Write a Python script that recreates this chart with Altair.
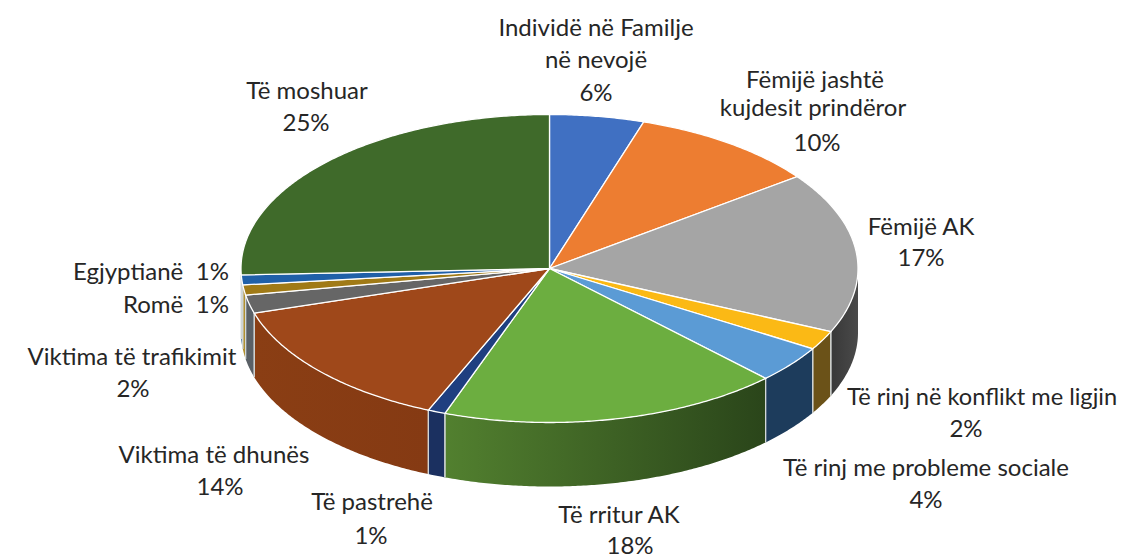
import math
import altair as alt
import pandas as pd

# Slice shares, in clockwise order from 12 o'clock
names = ["Individë në Familje në nevojë", "Fëmijë jashtë kujdesit prindëror", "Fëmijë AK",
         "Të rinj në konflikt me ligjin", "Të rinj me probleme sociale", "Të rritur AK",
         "Të pastrehë", "Viktima të dhunës", "Viktima të trafikimit", "Romë", "Egjyptianë", "Të moshuar"]
shares = [4.94, 9.89, 16.9, 2.0, 3.92, 17.86, 0.92, 13.9, 1.92, 1.06, 1.03, 25.67]
top_colors = ["#4070c2", "#ed7d31", "#a5a5a5", "#fbb915", "#5b9bd5", "#6cae40",
              "#1f3f80", "#9f481a", "#666666", "#a07a16", "#2060a8", "#3f6a2a"]
wall_a = ["#2b4a80", "#a0541f", "#4a4a4a", "#6b5218", "#1d3c5c", "#52802f",
          "#1b3060", "#8a3e14", "#5a6066", "#b09030", "#1c4f80", "#36581f"]
wall_b = ["#2b4a80", "#a0541f", "#383838", "#6b5218", "#1d3c5c", "#2a451a",
          "#1b3060", "#853a13", "#5a6066", "#b09030", "#1c4f80", "#36581f"]

label_lines = [
    ("Individë në Familje", 596, 36, "center", 24), ("në nevojë", 596, 68, "center", 24), ("6%", 596, 101, "center", 24),
    ("Fëmijë jashtë", 815, 88, "center", 24), ("kujdesit prindëror", 813, 116, "center", 24), ("10%", 817, 151, "center", 24),
    ("Fëmijë AK", 921, 235, "center", 24), ("17%", 921, 266, "center", 24),
    ("Të rinj në konflikt me ligjin", 982, 405, "center", 23.6), ("2%", 966, 437, "center", 24),
    ("Të rinj me probleme sociale", 926, 476, "center", 24), ("4%", 926, 508, "center", 24),
    ("Të rritur AK", 619, 523, "center", 24), ("18%", 630, 554, "center", 24),
    ("Të pastrehë", 372, 510, "center", 24), ("1%", 371, 544, "center", 24),
    ("Viktima të dhunës", 214, 463, "center", 24), ("14%", 220, 495, "center", 24),
    ("Viktima të trafikimit", 132, 365, "center", 24), ("2%", 133, 397, "center", 24),
    ("Romë", 123, 313, "left", 24), ("1%", 229, 313, "right", 24),
    ("Egjyptianë", 73, 280, "left", 24), ("1%", 229, 280, "right", 24),
    ("Të moshuar", 307, 99, "center", 24), ("25%", 306, 131, "center", 24),
]

W, H = 1110, 550
CX, CY, RX, RY, DEPTH = 541.5, 260.5, 308.5, 154.0, 64.0
FONT = "Lato"

xs = alt.Scale(domain=[0, W], nice=False, zero=False)
ys = alt.Scale(domain=[H, 0], nice=False, zero=False)
X = lambda: alt.X("x:Q", scale=xs, axis=None)
Y = lambda: alt.Y("y:Q", scale=ys, axis=None)


def rim(t):
    r = math.radians(t)
    return CX + RX * math.sin(r), CY - RY * math.cos(r)


def arc(t0, t1):
    n = max(2, int((t1 - t0) * 2))
    return [t0 + (t1 - t0) * i / n for i in range(n + 1)]


def path_chart(points, **mark):
    df = pd.DataFrame(points, columns=["x", "y"]).reset_index(names="seq")
    return alt.Chart(df).mark_line(interpolate="linear", **mark).encode(X(), Y(), order="seq:O")


total = sum(shares)
start = 0.0
tops, walls, seams = [], [], []
for s, col, wa, wb in zip(shares, top_colors, wall_a, wall_b):
    end = start + s / total * 360
    pts = [(CX, CY)] + [rim(t) for t in arc(start, end)] + [(CX, CY)]
    tops.append(path_chart(pts, fill=col, stroke="#ffffff", strokeWidth=1.3))
    a, b = max(start, 90.0), min(end, 270.0)
    if a < b:
        upper = [rim(t) for t in arc(a, b)]
        lower = [(x, y + DEPTH) for x, y in reversed(upper)]
        # gradient runs left to right in screen space
        left, right = (wb, wa) if b < 140 and wa != wb else (wa, wb)
        grad = alt.LinearGradient(gradient="linear", x1=0, x2=1, y1=0, y2=0,
                                  stops=[alt.GradientStop(offset=0, color=left),
                                         alt.GradientStop(offset=1, color=right)])
        walls.append(path_chart(upper + lower + upper[:1], fill=grad, strokeWidth=0))
        for t in (a, b):
            if 90 < t < 270:
                x, y = rim(t)
                seams.append(path_chart([(x, y), (x, y + DEPTH)], stroke="#d4d8d8", strokeWidth=1.1))
    start = end

texts = []
for txt, x, y, al, size in label_lines:
    texts.append(
        alt.Chart(pd.DataFrame({"t": [txt]}))
        .mark_text(font=FONT, fontSize=size, color="#262626", align=al, baseline="alphabetic")
        .encode(x=alt.value(x - 8), y=alt.value(y - 8), text="t:N")
    )

chart = alt.layer(*walls, *seams, *tops, *texts).properties(
    width=W, height=H, padding=0, autosize=alt.AutoSizeParams(type="none"),
    background="#ffffff",
).configure_view(stroke=None)

chart.save("out.html", embed_options={"renderer": "svg", "actions": False})
